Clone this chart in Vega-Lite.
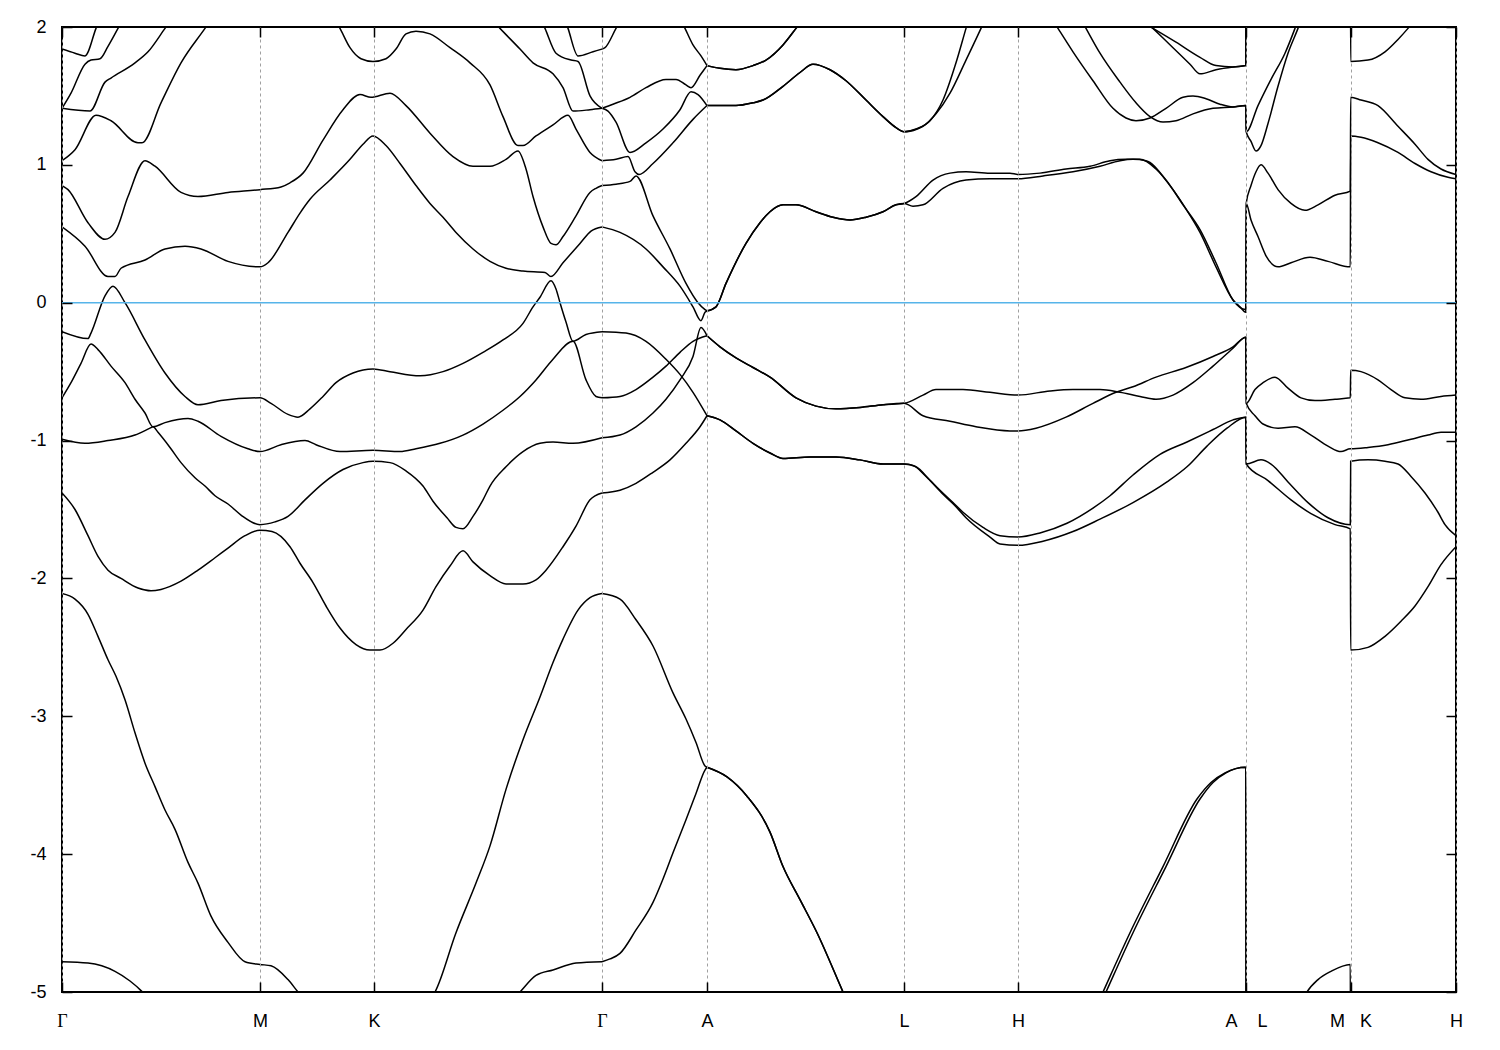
{
  "$schema": "https://vega.github.io/schema/vega-lite/v6.json",
  "width": 1394,
  "height": 965,
  "autosize": {"type": "none"},
  "padding": {"left": 62, "top": 27, "right": 44, "bottom": 58},
  "background": "white",
  "config": {"view": {"stroke": "black", "strokeWidth": 2}},
  "layer": [
    {
      "data": {"values": [
{"b":"a1","k":0,"e":-4.78},{"b":"a1","k":26,"e":-4.79},{"b":"a1","k":53,"e":-4.85},{"b":"a1","k":68,"e":-4.92},{"b":"a1","k":79,"e":-4.99},{"b":"a1","k":100,"e":-5.2},{"b":"a1","k":198,"e":-5.6},{"b":"a1","k":312,"e":-5.7},{"b":"a1","k":420,"e":-5.3},{"b":"a1","k":458,"e":-5.0},{"b":"a1","k":474,"e":-4.88},{"b":"a1","k":491,"e":-4.84},{"b":"a1","k":514,"e":-4.79},{"b":"a1","k":540,"e":-4.78},
{"b":"a2","k":0,"e":-2.11},{"b":"a2","k":13,"e":-2.15},{"b":"a2","k":26,"e":-2.26},{"b":"a2","k":36,"e":-2.42},{"b":"a2","k":46,"e":-2.59},{"b":"a2","k":54,"e":-2.71},{"b":"a2","k":63,"e":-2.88},{"b":"a2","k":73,"e":-3.12},{"b":"a2","k":83,"e":-3.34},{"b":"a2","k":93,"e":-3.51},{"b":"a2","k":103,"e":-3.68},{"b":"a2","k":113,"e":-3.82},{"b":"a2","k":126,"e":-4.06},{"b":"a2","k":136,"e":-4.21},{"b":"a2","k":149,"e":-4.45},{"b":"a2","k":166,"e":-4.64},{"b":"a2","k":183,"e":-4.78},{"b":"a2","k":198,"e":-4.80},{"b":"a2","k":209,"e":-4.81},{"b":"a2","k":226,"e":-4.91},{"b":"a2","k":236,"e":-5.0},{"b":"a2","k":312,"e":-5.4},{"b":"a2","k":373,"e":-5.0},{"b":"a2","k":394,"e":-4.57},{"b":"a2","k":414,"e":-4.21},{"b":"a2","k":428,"e":-3.94},{"b":"a2","k":444,"e":-3.53},{"b":"a2","k":461,"e":-3.17},{"b":"a2","k":478,"e":-2.86},{"b":"a2","k":491,"e":-2.61},{"b":"a2","k":501,"e":-2.44},{"b":"a2","k":516,"e":-2.23},{"b":"a2","k":528,"e":-2.14},{"b":"a2","k":540,"e":-2.11},
{"b":"a3","k":0,"e":-1.38},{"b":"a3","k":13,"e":-1.50},{"b":"a3","k":26,"e":-1.69},{"b":"a3","k":36,"e":-1.84},{"b":"a3","k":46,"e":-1.94},{"b":"a3","k":59,"e":-2.00},{"b":"a3","k":76,"e":-2.07},{"b":"a3","k":89,"e":-2.09},{"b":"a3","k":99,"e":-2.08},{"b":"a3","k":119,"e":-2.02},{"b":"a3","k":136,"e":-1.94},{"b":"a3","k":153,"e":-1.85},{"b":"a3","k":166,"e":-1.78},{"b":"a3","k":183,"e":-1.69},{"b":"a3","k":198,"e":-1.65},{"b":"a3","k":210,"e":-1.66},{"b":"a3","k":228,"e":-1.77},{"b":"a3","k":238,"e":-1.89},{"b":"a3","k":251,"e":-2.03},{"b":"a3","k":264,"e":-2.20},{"b":"a3","k":278,"e":-2.36},{"b":"a3","k":294,"e":-2.48},{"b":"a3","k":308,"e":-2.52},{"b":"a3","k":318,"e":-2.52},{"b":"a3","k":331,"e":-2.47},{"b":"a3","k":344,"e":-2.37},{"b":"a3","k":361,"e":-2.23},{"b":"a3","k":374,"e":-2.06},{"b":"a3","k":388,"e":-1.91},{"b":"a3","k":401,"e":-1.80},{"b":"a3","k":411,"e":-1.88},{"b":"a3","k":428,"e":-1.98},{"b":"a3","k":444,"e":-2.04},{"b":"a3","k":461,"e":-2.04},{"b":"a3","k":474,"e":-2.01},{"b":"a3","k":484,"e":-1.94},{"b":"a3","k":501,"e":-1.77},{"b":"a3","k":514,"e":-1.62},{"b":"a3","k":528,"e":-1.43},{"b":"a3","k":540,"e":-1.38},
{"b":"a4","k":0,"e":-0.99},{"b":"a4","k":23,"e":-1.02},{"b":"a4","k":46,"e":-1.00},{"b":"a4","k":73,"e":-0.96},{"b":"a4","k":88,"e":-0.91},{"b":"a4","k":91,"e":-0.90},{"b":"a4","k":96,"e":-0.94},{"b":"a4","k":108,"e":-1.05},{"b":"a4","k":119,"e":-1.16},{"b":"a4","k":133,"e":-1.27},{"b":"a4","k":143,"e":-1.33},{"b":"a4","k":153,"e":-1.40},{"b":"a4","k":166,"e":-1.46},{"b":"a4","k":179,"e":-1.54},{"b":"a4","k":198,"e":-1.61},{"b":"a4","k":213,"e":-1.59},{"b":"a4","k":226,"e":-1.55},{"b":"a4","k":243,"e":-1.43},{"b":"a4","k":261,"e":-1.31},{"b":"a4","k":281,"e":-1.21},{"b":"a4","k":301,"e":-1.16},{"b":"a4","k":311,"e":-1.15},{"b":"a4","k":328,"e":-1.16},{"b":"a4","k":344,"e":-1.22},{"b":"a4","k":361,"e":-1.33},{"b":"a4","k":371,"e":-1.44},{"b":"a4","k":385,"e":-1.56},{"b":"a4","k":394,"e":-1.63},{"b":"a4","k":401,"e":-1.64},{"b":"a4","k":411,"e":-1.55},{"b":"a4","k":421,"e":-1.43},{"b":"a4","k":428,"e":-1.33},{"b":"a4","k":444,"e":-1.19},{"b":"a4","k":461,"e":-1.08},{"b":"a4","k":478,"e":-1.02},{"b":"a4","k":491,"e":-1.01},{"b":"a4","k":511,"e":-1.02},{"b":"a4","k":540,"e":-0.98},
{"b":"a5","k":0,"e":-0.69},{"b":"a5","k":9,"e":-0.58},{"b":"a5","k":19,"e":-0.44},{"b":"a5","k":29,"e":-0.30},{"b":"a5","k":36,"e":-0.34},{"b":"a5","k":49,"e":-0.46},{"b":"a5","k":63,"e":-0.58},{"b":"a5","k":73,"e":-0.70},{"b":"a5","k":83,"e":-0.80},{"b":"a5","k":91,"e":-0.90},{"b":"a5","k":103,"e":-0.87},{"b":"a5","k":126,"e":-0.84},{"b":"a5","k":136,"e":-0.86},{"b":"a5","k":159,"e":-0.97},{"b":"a5","k":186,"e":-1.06},{"b":"a5","k":198,"e":-1.08},{"b":"a5","k":219,"e":-1.03},{"b":"a5","k":243,"e":-1.00},{"b":"a5","k":254,"e":-1.03},{"b":"a5","k":278,"e":-1.08},{"b":"a5","k":311,"e":-1.07},{"b":"a5","k":338,"e":-1.08},{"b":"a5","k":354,"e":-1.06},{"b":"a5","k":378,"e":-1.02},{"b":"a5","k":401,"e":-0.96},{"b":"a5","k":421,"e":-0.88},{"b":"a5","k":441,"e":-0.78},{"b":"a5","k":458,"e":-0.68},{"b":"a5","k":474,"e":-0.56},{"b":"a5","k":491,"e":-0.41},{"b":"a5","k":511,"e":-0.28},{"b":"a5","k":524,"e":-0.56},{"b":"a5","k":534,"e":-0.68},{"b":"a5","k":540,"e":-0.69},
{"b":"a6","k":0,"e":-0.21},{"b":"a6","k":26,"e":-0.26},{"b":"a6","k":29,"e":-0.22},{"b":"a6","k":43,"e":0.05},{"b":"a6","k":51,"e":0.12},{"b":"a6","k":63,"e":0.0},{"b":"a6","k":83,"e":-0.27},{"b":"a6","k":103,"e":-0.51},{"b":"a6","k":123,"e":-0.68},{"b":"a6","k":136,"e":-0.74},{"b":"a6","k":159,"e":-0.71},{"b":"a6","k":198,"e":-0.69},{"b":"a6","k":209,"e":-0.73},{"b":"a6","k":226,"e":-0.81},{"b":"a6","k":236,"e":-0.83},{"b":"a6","k":248,"e":-0.77},{"b":"a6","k":261,"e":-0.68},{"b":"a6","k":274,"e":-0.58},{"b":"a6","k":291,"e":-0.51},{"b":"a6","k":311,"e":-0.48},{"b":"a6","k":328,"e":-0.50},{"b":"a6","k":358,"e":-0.53},{"b":"a6","k":381,"e":-0.50},{"b":"a6","k":401,"e":-0.44},{"b":"a6","k":421,"e":-0.36},{"b":"a6","k":441,"e":-0.27},{"b":"a6","k":461,"e":-0.15},{"b":"a6","k":471,"e":-0.03},{"b":"a6","k":478,"e":0.04},{"b":"a6","k":489,"e":0.16},{"b":"a6","k":494,"e":0.10},{"b":"a6","k":498,"e":0.0},{"b":"a6","k":504,"e":-0.14},{"b":"a6","k":511,"e":-0.28},{"b":"a6","k":524,"e":-0.23},{"b":"a6","k":540,"e":-0.21},
{"b":"a7","k":0,"e":0.55},{"b":"a7","k":23,"e":0.41},{"b":"a7","k":46,"e":0.19},{"b":"a7","k":53,"e":0.19},{"b":"a7","k":59,"e":0.25},{"b":"a7","k":83,"e":0.31},{"b":"a7","k":103,"e":0.39},{"b":"a7","k":123,"e":0.41},{"b":"a7","k":139,"e":0.39},{"b":"a7","k":166,"e":0.30},{"b":"a7","k":198,"e":0.26},{"b":"a7","k":206,"e":0.29},{"b":"a7","k":226,"e":0.51},{"b":"a7","k":238,"e":0.65},{"b":"a7","k":248,"e":0.75},{"b":"a7","k":268,"e":0.89},{"b":"a7","k":288,"e":1.04},{"b":"a7","k":301,"e":1.15},{"b":"a7","k":311,"e":1.21},{"b":"a7","k":324,"e":1.14},{"b":"a7","k":338,"e":1.01},{"b":"a7","k":354,"e":0.85},{"b":"a7","k":368,"e":0.72},{"b":"a7","k":381,"e":0.62},{"b":"a7","k":394,"e":0.51},{"b":"a7","k":411,"e":0.39},{"b":"a7","k":428,"e":0.30},{"b":"a7","k":444,"e":0.25},{"b":"a7","k":461,"e":0.23},{"b":"a7","k":483,"e":0.22},{"b":"a7","k":489,"e":0.19},{"b":"a7","k":501,"e":0.29},{"b":"a7","k":518,"e":0.43},{"b":"a7","k":529,"e":0.52},{"b":"a7","k":540,"e":0.55},
{"b":"a8","k":0,"e":0.85},{"b":"a8","k":6,"e":0.82},{"b":"a8","k":26,"e":0.58},{"b":"a8","k":43,"e":0.46},{"b":"a8","k":53,"e":0.51},{"b":"a8","k":66,"e":0.77},{"b":"a8","k":83,"e":1.03},{"b":"a8","k":93,"e":0.99},{"b":"a8","k":119,"e":0.80},{"b":"a8","k":136,"e":0.77},{"b":"a8","k":166,"e":0.80},{"b":"a8","k":198,"e":0.82},{"b":"a8","k":219,"e":0.84},{"b":"a8","k":228,"e":0.87},{"b":"a8","k":241,"e":0.94},{"b":"a8","k":261,"e":1.18},{"b":"a8","k":281,"e":1.40},{"b":"a8","k":298,"e":1.51},{"b":"a8","k":309,"e":1.49},{"b":"a8","k":328,"e":1.52},{"b":"a8","k":344,"e":1.43},{"b":"a8","k":368,"e":1.23},{"b":"a8","k":391,"e":1.06},{"b":"a8","k":411,"e":0.99},{"b":"a8","k":428,"e":0.99},{"b":"a8","k":444,"e":1.04},{"b":"a8","k":456,"e":1.10},{"b":"a8","k":464,"e":0.97},{"b":"a8","k":471,"e":0.77},{"b":"a8","k":481,"e":0.55},{"b":"a8","k":489,"e":0.43},{"b":"a8","k":494,"e":0.42},{"b":"a8","k":501,"e":0.48},{"b":"a8","k":514,"e":0.63},{"b":"a8","k":528,"e":0.80},{"b":"a8","k":534,"e":0.83},{"b":"a8","k":540,"e":0.85},
{"b":"a9","k":0,"e":1.03},{"b":"a9","k":13,"e":1.11},{"b":"a9","k":34,"e":1.36},{"b":"a9","k":49,"e":1.32},{"b":"a9","k":76,"e":1.16},{"b":"a9","k":80,"e":1.16},{"b":"a9","k":99,"e":1.45},{"b":"a9","k":119,"e":1.74},{"b":"a9","k":143,"e":1.99},{"b":"a9","k":170,"e":2.27},{"b":"a9","k":250,"e":2.3},{"b":"a9","k":278,"e":1.99},{"b":"a9","k":288,"e":1.85},{"b":"a9","k":299,"e":1.77},{"b":"a9","k":311,"e":1.75},{"b":"a9","k":324,"e":1.77},{"b":"a9","k":334,"e":1.84},{"b":"a9","k":344,"e":1.95},{"b":"a9","k":354,"e":1.97},{"b":"a9","k":368,"e":1.95},{"b":"a9","k":388,"e":1.85},{"b":"a9","k":408,"e":1.74},{"b":"a9","k":428,"e":1.58},{"b":"a9","k":441,"e":1.35},{"b":"a9","k":456,"e":1.14},{"b":"a9","k":461,"e":1.14},{"b":"a9","k":474,"e":1.21},{"b":"a9","k":491,"e":1.29},{"b":"a9","k":506,"e":1.36},{"b":"a9","k":514,"e":1.26},{"b":"a9","k":528,"e":1.09},{"b":"a9","k":540,"e":1.03},
{"b":"a10","k":0,"e":1.41},{"b":"a10","k":28,"e":1.39},{"b":"a10","k":43,"e":1.60},{"b":"a10","k":49,"e":1.63},{"b":"a10","k":73,"e":1.74},{"b":"a10","k":86,"e":1.82},{"b":"a10","k":103,"e":1.99},{"b":"a10","k":130,"e":2.26},{"b":"a10","k":300,"e":2.5},{"b":"a10","k":420,"e":2.13},{"b":"a10","k":438,"e":1.99},{"b":"a10","k":458,"e":1.84},{"b":"a10","k":471,"e":1.74},{"b":"a10","k":491,"e":1.66},{"b":"a10","k":501,"e":1.56},{"b":"a10","k":511,"e":1.39},{"b":"a10","k":528,"e":1.40},{"b":"a10","k":540,"e":1.41},
{"b":"a11","k":0,"e":1.41},{"b":"a11","k":9,"e":1.52},{"b":"a11","k":23,"e":1.73},{"b":"a11","k":29,"e":1.76},{"b":"a11","k":38,"e":1.77},{"b":"a11","k":46,"e":1.86},{"b":"a11","k":56,"e":1.99},{"b":"a11","k":80,"e":2.3},{"b":"a11","k":300,"e":2.6},{"b":"a11","k":470,"e":2.2},{"b":"a11","k":483,"e":1.99},{"b":"a11","k":494,"e":1.81},{"b":"a11","k":509,"e":1.76},{"b":"a11","k":516,"e":1.75},{"b":"a11","k":528,"e":1.50},{"b":"a11","k":540,"e":1.41},
{"b":"a12","k":0,"e":1.84},{"b":"a12","k":13,"e":1.81},{"b":"a12","k":23,"e":1.79},{"b":"a12","k":34,"e":1.99},{"b":"a12","k":60,"e":2.47},{"b":"a12","k":300,"e":2.7},{"b":"a12","k":495,"e":2.21},{"b":"a12","k":506,"e":1.99},{"b":"a12","k":516,"e":1.79},{"b":"a12","k":531,"e":1.82},{"b":"a12","k":540,"e":1.84},
{"b":"g1","k":540,"e":-4.78},{"b":"g1","k":548,"e":-4.76},{"b":"g1","k":558,"e":-4.72},{"b":"g1","k":574,"e":-4.55},{"b":"g1","k":591,"e":-4.35},{"b":"g1","k":601,"e":-4.18},{"b":"g1","k":611,"e":-3.99},{"b":"g1","k":624,"e":-3.75},{"b":"g1","k":634,"e":-3.56},{"b":"g1","k":643,"e":-3.39},{"b":"g1","k":645,"e":-3.37},
{"b":"g2","k":540,"e":-2.11},{"b":"g2","k":558,"e":-2.15},{"b":"g2","k":574,"e":-2.30},{"b":"g2","k":591,"e":-2.49},{"b":"g2","k":611,"e":-2.83},{"b":"g2","k":624,"e":-3.02},{"b":"g2","k":634,"e":-3.19},{"b":"g2","k":643,"e":-3.36},{"b":"g2","k":645,"e":-3.37},
{"b":"g3","k":540,"e":-1.38},{"b":"g3","k":558,"e":-1.36},{"b":"g3","k":574,"e":-1.31},{"b":"g3","k":591,"e":-1.23},{"b":"g3","k":608,"e":-1.14},{"b":"g3","k":624,"e":-1.02},{"b":"g3","k":638,"e":-0.90},{"b":"g3","k":645,"e":-0.82},
{"b":"g4","k":540,"e":-0.98},{"b":"g4","k":558,"e":-0.96},{"b":"g4","k":574,"e":-0.90},{"b":"g4","k":591,"e":-0.80},{"b":"g4","k":604,"e":-0.70},{"b":"g4","k":618,"e":-0.56},{"b":"g4","k":631,"e":-0.39},{"b":"g4","k":639,"e":-0.18},{"b":"g4","k":645,"e":-0.24},
{"b":"g5","k":540,"e":-0.69},{"b":"g5","k":558,"e":-0.68},{"b":"g5","k":574,"e":-0.63},{"b":"g5","k":591,"e":-0.54},{"b":"g5","k":604,"e":-0.46},{"b":"g5","k":618,"e":-0.36},{"b":"g5","k":631,"e":-0.28},{"b":"g5","k":645,"e":-0.24},
{"b":"g6","k":540,"e":-0.21},{"b":"g6","k":564,"e":-0.22},{"b":"g6","k":584,"e":-0.28},{"b":"g6","k":604,"e":-0.41},{"b":"g6","k":618,"e":-0.52},{"b":"g6","k":631,"e":-0.65},{"b":"g6","k":645,"e":-0.82},
{"b":"g7","k":540,"e":0.55},{"b":"g7","k":558,"e":0.51},{"b":"g7","k":584,"e":0.39},{"b":"g7","k":601,"e":0.26},{"b":"g7","k":618,"e":0.12},{"b":"g7","k":631,"e":-0.03},{"b":"g7","k":639,"e":-0.13},{"b":"g7","k":643,"e":-0.07},{"b":"g7","k":645,"e":-0.06},
{"b":"g8","k":540,"e":0.85},{"b":"g8","k":554,"e":0.86},{"b":"g8","k":568,"e":0.88},{"b":"g8","k":574,"e":0.92},{"b":"g8","k":591,"e":0.63},{"b":"g8","k":608,"e":0.39},{"b":"g8","k":624,"e":0.14},{"b":"g8","k":636,"e":0.0},{"b":"g8","k":643,"e":-0.05},{"b":"g8","k":645,"e":-0.06},
{"b":"g9","k":540,"e":1.03},{"b":"g9","k":554,"e":1.04},{"b":"g9","k":566,"e":1.06},{"b":"g9","k":573,"e":0.95},{"b":"g9","k":577,"e":0.93},{"b":"g9","k":591,"e":1.01},{"b":"g9","k":611,"e":1.16},{"b":"g9","k":631,"e":1.33},{"b":"g9","k":645,"e":1.43},
{"b":"g10","k":540,"e":1.41},{"b":"g10","k":546,"e":1.39},{"b":"g10","k":554,"e":1.31},{"b":"g10","k":568,"e":1.09},{"b":"g10","k":584,"e":1.16},{"b":"g10","k":601,"e":1.26},{"b":"g10","k":618,"e":1.40},{"b":"g10","k":629,"e":1.53},{"b":"g10","k":636,"e":1.51},{"b":"g10","k":645,"e":1.43},
{"b":"g11","k":540,"e":1.41},{"b":"g11","k":551,"e":1.44},{"b":"g11","k":568,"e":1.49},{"b":"g11","k":584,"e":1.56},{"b":"g11","k":604,"e":1.62},{"b":"g11","k":614,"e":1.62},{"b":"g11","k":624,"e":1.58},{"b":"g11","k":629,"e":1.56},{"b":"g11","k":638,"e":1.65},{"b":"g11","k":645,"e":1.72},
{"b":"g12","k":540,"e":1.84},{"b":"g12","k":543,"e":1.85},{"b":"g12","k":554,"e":1.99},{"b":"g12","k":570,"e":2.2},{"b":"g12","k":608,"e":2.2},{"b":"g12","k":623,"e":1.99},{"b":"g12","k":631,"e":1.87},{"b":"g12","k":639,"e":1.79},{"b":"g12","k":645,"e":1.72},
{"b":"c1","k":645,"e":-3.37},{"b":"c1","k":665,"e":-3.44},{"b":"c1","k":685,"e":-3.58},{"b":"c1","k":708,"e":-3.84},{"b":"c1","k":721,"e":-4.09},{"b":"c1","k":738,"e":-4.33},{"b":"c1","k":755,"e":-4.57},{"b":"c1","k":781,"e":-5.0},{"b":"c1","k":842,"e":-6.0},{"b":"c1","k":956,"e":-6.2},{"b":"c1","k":1010,"e":-5.55},{"b":"c1","k":1044,"e":-5.0},{"b":"c1","k":1071,"e":-4.57},{"b":"c1","k":1104,"e":-4.09},{"b":"c1","k":1138,"e":-3.60},{"b":"c1","k":1151,"e":-3.48},{"b":"c1","k":1164,"e":-3.41},{"b":"c1","k":1183.8,"e":-3.37},{"b":"c1","k":1184.2,"e":-6.0},{"b":"c1","k":1394,"e":-6.0},
{"b":"c2","k":645,"e":-3.37},{"b":"c2","k":665,"e":-3.44},{"b":"c2","k":685,"e":-3.58},{"b":"c2","k":708,"e":-3.84},{"b":"c2","k":721,"e":-4.09},{"b":"c2","k":738,"e":-4.33},{"b":"c2","k":755,"e":-4.57},{"b":"c2","k":781,"e":-5.0},{"b":"c2","k":842,"e":-6.0},{"b":"c2","k":956,"e":-6.2},{"b":"c2","k":1007,"e":-5.55},{"b":"c2","k":1041,"e":-5.0},{"b":"c2","k":1068,"e":-4.57},{"b":"c2","k":1101,"e":-4.09},{"b":"c2","k":1135,"e":-3.60},{"b":"c2","k":1149,"e":-3.48},{"b":"c2","k":1163,"e":-3.41},{"b":"c2","k":1183.8,"e":-3.37},{"b":"c2","k":1184.2,"e":-6.0},{"b":"c2","k":1220,"e":-5.5},{"b":"c2","k":1245,"e":-5.0},{"b":"c2","k":1256,"e":-4.91},{"b":"c2","k":1269,"e":-4.85},{"b":"c2","k":1288.3,"e":-4.80},{"b":"c2","k":1288.7,"e":-6.0},{"b":"c2","k":1394,"e":-6.0},
{"b":"c3","k":645,"e":-0.82},{"b":"c3","k":658,"e":-0.85},{"b":"c3","k":674,"e":-0.93},{"b":"c3","k":691,"e":-1.02},{"b":"c3","k":708,"e":-1.09},{"b":"c3","k":721,"e":-1.13},{"b":"c3","k":748,"e":-1.12},{"b":"c3","k":774,"e":-1.12},{"b":"c3","k":798,"e":-1.14},{"b":"c3","k":821,"e":-1.17},{"b":"c3","k":842,"e":-1.17},{"b":"c3","k":854,"e":-1.19},{"b":"c3","k":868,"e":-1.29},{"b":"c3","k":881,"e":-1.39},{"b":"c3","k":894,"e":-1.48},{"b":"c3","k":904,"e":-1.56},{"b":"c3","k":928,"e":-1.70},{"b":"c3","k":938,"e":-1.75},{"b":"c3","k":956,"e":-1.76},{"b":"c3","k":981,"e":-1.73},{"b":"c3","k":1011,"e":-1.66},{"b":"c3","k":1038,"e":-1.57},{"b":"c3","k":1071,"e":-1.45},{"b":"c3","k":1105,"e":-1.30},{"b":"c3","k":1125,"e":-1.19},{"b":"c3","k":1145,"e":-1.04},{"b":"c3","k":1165,"e":-0.91},{"b":"c3","k":1183.8,"e":-0.83},{"b":"c3","k":1184.2,"e":-1.17},{"b":"c3","k":1206,"e":-1.29},{"b":"c3","k":1229,"e":-1.43},{"b":"c3","k":1249,"e":-1.53},{"b":"c3","k":1273,"e":-1.61},{"b":"c3","k":1288.3,"e":-1.64},{"b":"c3","k":1288.7,"e":-2.52},{"b":"c3","k":1306,"e":-2.50},{"b":"c3","k":1323,"e":-2.42},{"b":"c3","k":1339,"e":-2.31},{"b":"c3","k":1353,"e":-2.20},{"b":"c3","k":1366,"e":-2.06},{"b":"c3","k":1379,"e":-1.90},{"b":"c3","k":1394,"e":-1.77},
{"b":"c4","k":645,"e":-0.82},{"b":"c4","k":658,"e":-0.85},{"b":"c4","k":674,"e":-0.93},{"b":"c4","k":691,"e":-1.02},{"b":"c4","k":708,"e":-1.09},{"b":"c4","k":721,"e":-1.13},{"b":"c4","k":748,"e":-1.12},{"b":"c4","k":774,"e":-1.12},{"b":"c4","k":798,"e":-1.14},{"b":"c4","k":821,"e":-1.17},{"b":"c4","k":842,"e":-1.17},{"b":"c4","k":851,"e":-1.18},{"b":"c4","k":864,"e":-1.26},{"b":"c4","k":878,"e":-1.36},{"b":"c4","k":891,"e":-1.45},{"b":"c4","k":901,"e":-1.52},{"b":"c4","k":921,"e":-1.63},{"b":"c4","k":938,"e":-1.69},{"b":"c4","k":956,"e":-1.70},{"b":"c4","k":978,"e":-1.67},{"b":"c4","k":1005,"e":-1.60},{"b":"c4","k":1031,"e":-1.49},{"b":"c4","k":1048,"e":-1.40},{"b":"c4","k":1071,"e":-1.25},{"b":"c4","k":1098,"e":-1.10},{"b":"c4","k":1125,"e":-1.01},{"b":"c4","k":1151,"e":-0.92},{"b":"c4","k":1171,"e":-0.85},{"b":"c4","k":1183.8,"e":-0.83},{"b":"c4","k":1184.2,"e":-1.17},{"b":"c4","k":1199,"e":-1.14},{"b":"c4","k":1209,"e":-1.17},{"b":"c4","k":1226,"e":-1.30},{"b":"c4","k":1246,"e":-1.45},{"b":"c4","k":1266,"e":-1.56},{"b":"c4","k":1288.3,"e":-1.61},{"b":"c4","k":1288.7,"e":-1.15},{"b":"c4","k":1306,"e":-1.14},{"b":"c4","k":1323,"e":-1.15},{"b":"c4","k":1336,"e":-1.17},{"b":"c4","k":1349,"e":-1.26},{"b":"c4","k":1363,"e":-1.38},{"b":"c4","k":1376,"e":-1.52},{"b":"c4","k":1383,"e":-1.61},{"b":"c4","k":1394,"e":-1.69},
{"b":"c5","k":645,"e":-0.24},{"b":"c5","k":658,"e":-0.32},{"b":"c5","k":674,"e":-0.40},{"b":"c5","k":691,"e":-0.47},{"b":"c5","k":708,"e":-0.54},{"b":"c5","k":734,"e":-0.69},{"b":"c5","k":754,"e":-0.75},{"b":"c5","k":774,"e":-0.77},{"b":"c5","k":798,"e":-0.76},{"b":"c5","k":821,"e":-0.74},{"b":"c5","k":842,"e":-0.73},{"b":"c5","k":861,"e":-0.82},{"b":"c5","k":888,"e":-0.86},{"b":"c5","k":914,"e":-0.90},{"b":"c5","k":948,"e":-0.93},{"b":"c5","k":956,"e":-0.93},{"b":"c5","k":974,"e":-0.91},{"b":"c5","k":1004,"e":-0.83},{"b":"c5","k":1031,"e":-0.73},{"b":"c5","k":1054,"e":-0.65},{"b":"c5","k":1071,"e":-0.61},{"b":"c5","k":1094,"e":-0.54},{"b":"c5","k":1124,"e":-0.47},{"b":"c5","k":1151,"e":-0.39},{"b":"c5","k":1171,"e":-0.32},{"b":"c5","k":1183.8,"e":-0.25},{"b":"c5","k":1184.2,"e":-0.73},{"b":"c5","k":1193,"e":-0.82},{"b":"c5","k":1201,"e":-0.88},{"b":"c5","k":1216,"e":-0.91},{"b":"c5","k":1233,"e":-0.90},{"b":"c5","k":1249,"e":-0.96},{"b":"c5","k":1266,"e":-1.04},{"b":"c5","k":1279,"e":-1.08},{"b":"c5","k":1288.3,"e":-1.06},{"b":"c5","k":1288.7,"e":-1.06},{"b":"c5","k":1306,"e":-1.05},{"b":"c5","k":1326,"e":-1.03},{"b":"c5","k":1349,"e":-0.99},{"b":"c5","k":1366,"e":-0.96},{"b":"c5","k":1379,"e":-0.94},{"b":"c5","k":1394,"e":-0.94},
{"b":"c6","k":645,"e":-0.24},{"b":"c6","k":658,"e":-0.32},{"b":"c6","k":674,"e":-0.40},{"b":"c6","k":691,"e":-0.47},{"b":"c6","k":708,"e":-0.54},{"b":"c6","k":734,"e":-0.69},{"b":"c6","k":754,"e":-0.75},{"b":"c6","k":774,"e":-0.77},{"b":"c6","k":798,"e":-0.76},{"b":"c6","k":821,"e":-0.74},{"b":"c6","k":842,"e":-0.73},{"b":"c6","k":861,"e":-0.67},{"b":"c6","k":874,"e":-0.63},{"b":"c6","k":901,"e":-0.63},{"b":"c6","k":928,"e":-0.65},{"b":"c6","k":956,"e":-0.67},{"b":"c6","k":988,"e":-0.64},{"b":"c6","k":1011,"e":-0.63},{"b":"c6","k":1038,"e":-0.63},{"b":"c6","k":1058,"e":-0.65},{"b":"c6","k":1078,"e":-0.68},{"b":"c6","k":1094,"e":-0.70},{"b":"c6","k":1111,"e":-0.67},{"b":"c6","k":1131,"e":-0.58},{"b":"c6","k":1151,"e":-0.46},{"b":"c6","k":1171,"e":-0.33},{"b":"c6","k":1183.8,"e":-0.25},{"b":"c6","k":1184.2,"e":-0.73},{"b":"c6","k":1193,"e":-0.63},{"b":"c6","k":1201,"e":-0.58},{"b":"c6","k":1213,"e":-0.54},{"b":"c6","k":1226,"e":-0.62},{"b":"c6","k":1239,"e":-0.69},{"b":"c6","k":1253,"e":-0.71},{"b":"c6","k":1273,"e":-0.70},{"b":"c6","k":1288.3,"e":-0.69},{"b":"c6","k":1288.7,"e":-0.49},{"b":"c6","k":1299,"e":-0.50},{"b":"c6","k":1316,"e":-0.56},{"b":"c6","k":1329,"e":-0.63},{"b":"c6","k":1343,"e":-0.69},{"b":"c6","k":1359,"e":-0.70},{"b":"c6","k":1379,"e":-0.68},{"b":"c6","k":1394,"e":-0.67},
{"b":"c7","k":645,"e":-0.06},{"b":"c7","k":654,"e":-0.03},{"b":"c7","k":664,"e":0.14},{"b":"c7","k":684,"e":0.43},{"b":"c7","k":698,"e":0.58},{"b":"c7","k":708,"e":0.66},{"b":"c7","k":721,"e":0.71},{"b":"c7","k":734,"e":0.71},{"b":"c7","k":754,"e":0.66},{"b":"c7","k":771,"e":0.62},{"b":"c7","k":788,"e":0.60},{"b":"c7","k":804,"e":0.62},{"b":"c7","k":821,"e":0.66},{"b":"c7","k":834,"e":0.71},{"b":"c7","k":842,"e":0.72},{"b":"c7","k":851,"e":0.70},{"b":"c7","k":861,"e":0.71},{"b":"c7","k":881,"e":0.83},{"b":"c7","k":904,"e":0.89},{"b":"c7","k":928,"e":0.90},{"b":"c7","k":948,"e":0.90},{"b":"c7","k":956,"e":0.90},{"b":"c7","k":981,"e":0.92},{"b":"c7","k":1011,"e":0.95},{"b":"c7","k":1038,"e":0.99},{"b":"c7","k":1058,"e":1.03},{"b":"c7","k":1071,"e":1.04},{"b":"c7","k":1084,"e":1.03},{"b":"c7","k":1104,"e":0.89},{"b":"c7","k":1121,"e":0.71},{"b":"c7","k":1138,"e":0.53},{"b":"c7","k":1154,"e":0.29},{"b":"c7","k":1171,"e":0.02},{"b":"c7","k":1183.8,"e":-0.05},{"b":"c7","k":1184.2,"e":0.72},{"b":"c7","k":1189,"e":0.60},{"b":"c7","k":1196,"e":0.48},{"b":"c7","k":1204,"e":0.34},{"b":"c7","k":1216,"e":0.26},{"b":"c7","k":1229,"e":0.29},{"b":"c7","k":1248,"e":0.33},{"b":"c7","k":1266,"e":0.30},{"b":"c7","k":1288.3,"e":0.26},{"b":"c7","k":1288.7,"e":1.21},{"b":"c7","k":1299,"e":1.20},{"b":"c7","k":1316,"e":1.16},{"b":"c7","k":1336,"e":1.09},{"b":"c7","k":1353,"e":1.01},{"b":"c7","k":1369,"e":0.95},{"b":"c7","k":1386,"e":0.91},{"b":"c7","k":1394,"e":0.90},
{"b":"c8","k":645,"e":-0.06},{"b":"c8","k":654,"e":-0.03},{"b":"c8","k":664,"e":0.14},{"b":"c8","k":684,"e":0.43},{"b":"c8","k":698,"e":0.58},{"b":"c8","k":708,"e":0.66},{"b":"c8","k":721,"e":0.71},{"b":"c8","k":734,"e":0.71},{"b":"c8","k":754,"e":0.66},{"b":"c8","k":771,"e":0.62},{"b":"c8","k":788,"e":0.60},{"b":"c8","k":804,"e":0.62},{"b":"c8","k":821,"e":0.66},{"b":"c8","k":834,"e":0.71},{"b":"c8","k":842,"e":0.72},{"b":"c8","k":854,"e":0.77},{"b":"c8","k":871,"e":0.89},{"b":"c8","k":888,"e":0.94},{"b":"c8","k":904,"e":0.95},{"b":"c8","k":928,"e":0.94},{"b":"c8","k":948,"e":0.94},{"b":"c8","k":956,"e":0.93},{"b":"c8","k":978,"e":0.94},{"b":"c8","k":1004,"e":0.97},{"b":"c8","k":1028,"e":0.99},{"b":"c8","k":1048,"e":1.03},{"b":"c8","k":1064,"e":1.04},{"b":"c8","k":1078,"e":1.04},{"b":"c8","k":1094,"e":0.97},{"b":"c8","k":1111,"e":0.82},{"b":"c8","k":1124,"e":0.68},{"b":"c8","k":1138,"e":0.51},{"b":"c8","k":1154,"e":0.26},{"b":"c8","k":1171,"e":0.02},{"b":"c8","k":1178,"e":-0.03},{"b":"c8","k":1183.8,"e":-0.07},{"b":"c8","k":1184.2,"e":0.72},{"b":"c8","k":1189,"e":0.85},{"b":"c8","k":1194,"e":0.95},{"b":"c8","k":1199,"e":1.00},{"b":"c8","k":1206,"e":0.94},{"b":"c8","k":1216,"e":0.82},{"b":"c8","k":1229,"e":0.72},{"b":"c8","k":1243,"e":0.67},{"b":"c8","k":1256,"e":0.71},{"b":"c8","k":1273,"e":0.78},{"b":"c8","k":1288.3,"e":0.81},{"b":"c8","k":1288.7,"e":1.49},{"b":"c8","k":1299,"e":1.47},{"b":"c8","k":1316,"e":1.43},{"b":"c8","k":1336,"e":1.28},{"b":"c8","k":1353,"e":1.15},{"b":"c8","k":1366,"e":1.04},{"b":"c8","k":1379,"e":0.97},{"b":"c8","k":1394,"e":0.93},
{"b":"c9","k":645,"e":1.43},{"b":"c9","k":658,"e":1.43},{"b":"c9","k":674,"e":1.43},{"b":"c9","k":691,"e":1.45},{"b":"c9","k":701,"e":1.47},{"b":"c9","k":721,"e":1.57},{"b":"c9","k":738,"e":1.67},{"b":"c9","k":751,"e":1.73},{"b":"c9","k":768,"e":1.69},{"b":"c9","k":784,"e":1.61},{"b":"c9","k":804,"e":1.47},{"b":"c9","k":821,"e":1.35},{"b":"c9","k":834,"e":1.27},{"b":"c9","k":842,"e":1.24},{"b":"c9","k":854,"e":1.26},{"b":"c9","k":868,"e":1.32},{"b":"c9","k":881,"e":1.47},{"b":"c9","k":894,"e":1.74},{"b":"c9","k":904,"e":1.99},{"b":"c9","k":925,"e":2.5},{"b":"c9","k":960,"e":2.6},{"b":"c9","k":975,"e":2.22},{"b":"c9","k":996,"e":1.99},{"b":"c9","k":1011,"e":1.82},{"b":"c9","k":1031,"e":1.61},{"b":"c9","k":1051,"e":1.41},{"b":"c9","k":1064,"e":1.34},{"b":"c9","k":1074,"e":1.32},{"b":"c9","k":1088,"e":1.34},{"b":"c9","k":1104,"e":1.41},{"b":"c9","k":1121,"e":1.49},{"b":"c9","k":1131,"e":1.50},{"b":"c9","k":1144,"e":1.48},{"b":"c9","k":1158,"e":1.44},{"b":"c9","k":1171,"e":1.42},{"b":"c9","k":1183.8,"e":1.43},{"b":"c9","k":1184.2,"e":1.24},{"b":"c9","k":1189,"e":1.17},{"b":"c9","k":1194,"e":1.10},{"b":"c9","k":1199,"e":1.14},{"b":"c9","k":1206,"e":1.30},{"b":"c9","k":1216,"e":1.57},{"b":"c9","k":1226,"e":1.81},{"b":"c9","k":1236,"e":1.99},{"b":"c9","k":1260,"e":2.5},{"b":"c9","k":1288.3,"e":2.7},{"b":"c9","k":1288.7,"e":1.75},{"b":"c9","k":1306,"e":1.76},{"b":"c9","k":1323,"e":1.82},{"b":"c9","k":1336,"e":1.91},{"b":"c9","k":1346,"e":1.99},{"b":"c9","k":1360,"e":2.12},{"b":"c9","k":1394,"e":2.4},
{"b":"c10","k":645,"e":1.43},{"b":"c10","k":658,"e":1.43},{"b":"c10","k":674,"e":1.43},{"b":"c10","k":691,"e":1.45},{"b":"c10","k":701,"e":1.47},{"b":"c10","k":721,"e":1.57},{"b":"c10","k":738,"e":1.67},{"b":"c10","k":751,"e":1.73},{"b":"c10","k":768,"e":1.69},{"b":"c10","k":784,"e":1.61},{"b":"c10","k":804,"e":1.47},{"b":"c10","k":821,"e":1.35},{"b":"c10","k":834,"e":1.27},{"b":"c10","k":842,"e":1.24},{"b":"c10","k":861,"e":1.28},{"b":"c10","k":874,"e":1.37},{"b":"c10","k":888,"e":1.52},{"b":"c10","k":904,"e":1.76},{"b":"c10","k":919,"e":1.99},{"b":"c10","k":935,"e":2.25},{"b":"c10","k":990,"e":2.5},{"b":"c10","k":1005,"e":2.24},{"b":"c10","k":1024,"e":1.99},{"b":"c10","k":1038,"e":1.81},{"b":"c10","k":1058,"e":1.60},{"b":"c10","k":1074,"e":1.45},{"b":"c10","k":1088,"e":1.35},{"b":"c10","k":1101,"e":1.31},{"b":"c10","k":1114,"e":1.32},{"b":"c10","k":1131,"e":1.37},{"b":"c10","k":1151,"e":1.41},{"b":"c10","k":1171,"e":1.42},{"b":"c10","k":1183.8,"e":1.43},{"b":"c10","k":1184.2,"e":1.24},{"b":"c10","k":1196,"e":1.43},{"b":"c10","k":1209,"e":1.62},{"b":"c10","k":1223,"e":1.81},{"b":"c10","k":1233,"e":1.99},{"b":"c10","k":1260,"e":2.6},{"b":"c10","k":1394,"e":2.8},
{"b":"c11","k":645,"e":1.72},{"b":"c11","k":658,"e":1.70},{"b":"c11","k":674,"e":1.69},{"b":"c11","k":691,"e":1.72},{"b":"c11","k":704,"e":1.76},{"b":"c11","k":721,"e":1.87},{"b":"c11","k":734,"e":1.99},{"b":"c11","k":760,"e":2.25},{"b":"c11","k":900,"e":2.8},{"b":"c11","k":1040,"e":2.4},{"b":"c11","k":1060,"e":2.21},{"b":"c11","k":1091,"e":1.99},{"b":"c11","k":1111,"e":1.85},{"b":"c11","k":1128,"e":1.73},{"b":"c11","k":1138,"e":1.66},{"b":"c11","k":1154,"e":1.69},{"b":"c11","k":1171,"e":1.71},{"b":"c11","k":1183.8,"e":1.72},{"b":"c11","k":1184.2,"e":2.6},{"b":"c11","k":1394,"e":2.8},
{"b":"c12","k":645,"e":1.72},{"b":"c12","k":658,"e":1.70},{"b":"c12","k":674,"e":1.69},{"b":"c12","k":691,"e":1.72},{"b":"c12","k":704,"e":1.76},{"b":"c12","k":721,"e":1.87},{"b":"c12","k":734,"e":1.99},{"b":"c12","k":760,"e":2.25},{"b":"c12","k":900,"e":2.8},{"b":"c12","k":1040,"e":2.4},{"b":"c12","k":1060,"e":2.12},{"b":"c12","k":1091,"e":1.99},{"b":"c12","k":1114,"e":1.89},{"b":"c12","k":1138,"e":1.78},{"b":"c12","k":1154,"e":1.72},{"b":"c12","k":1171,"e":1.71},{"b":"c12","k":1183.8,"e":1.72},{"b":"c12","k":1184.2,"e":2.6},{"b":"c12","k":1394,"e":2.8}
      ]},
      "mark": {"type": "line", "clip": true, "color": "black", "strokeWidth": 1.5, "interpolate": "monotone"},
      "encoding": {
        "x": {"field": "k", "type": "quantitative",
          "scale": {"domain": [0, 1394], "nice": false, "zero": false},
          "axis": {"orient": "bottom", "values": [0, 198, 312, 540, 645, 842, 956, 1184, 1288.5, 1394],
            "labelExpr": "datum.value == 0 || datum.value == 540 ? 'Γ' : datum.value == 198 ? 'M' : datum.value == 312 ? 'K' : datum.value == 645 ? 'A' : datum.value == 842 ? 'L' : (datum.value == 956 || datum.value == 1394) ? 'H' : datum.value == 1184 ? 'A\u00a0\u00a0\u00a0\u00a0L' : 'M\u00a0\u00a0\u00a0K'",
            "title": null, "domain": false, "ticks": true, "tickSize": -10, "tickColor": "black", "tickWidth": 1.5,
            "grid": true, "gridColor": "#a0a0a0", "gridDash": [3, 3], "gridWidth": 1,
            "labelFont": {"condition": {"test": "datum.value == 0 || datum.value == 540", "value": "Liberation Serif"}, "value": "Liberation Sans"},
            "labelFontSize": 18, "labelColor": "black", "labelPadding": 30,
            "labelFlush": false, "labelOverlap": false, "labelBound": false, "zindex": 1}},
        "y": {"field": "e", "type": "quantitative",
          "scale": {"domain": [-5, 2], "nice": false, "zero": false},
          "axis": {"orient": "left", "values": [-5, -4, -3, -2, -1, 0, 1, 2], "labelExpr": "'' + datum.value",
            "title": null, "domain": false, "ticks": true, "tickSize": -10, "tickColor": "black", "tickWidth": 1.5,
            "grid": false, "labelFont": "Liberation Sans", "labelFontSize": 18, "labelColor": "black", "labelPadding": 26,
            "labelFlush": false, "labelOverlap": false, "labelBound": false, "zindex": 1}},
        "detail": {"field": "b", "type": "nominal"}
      }
    },
    {
      "data": {"values": [{"k": 0, "e": 0}, {"k": 1394, "e": 0}]},
      "mark": {"type": "line", "clip": true, "color": "#56b4e9", "strokeWidth": 1.5},
      "encoding": {
        "x": {"field": "k", "type": "quantitative",
          "axis": {"orient": "top", "values": [0, 198, 312, 540, 645, 842, 956, 1184, 1288.5, 1394], "labels": false,
            "title": null, "domain": false, "ticks": true, "tickSize": -10, "tickColor": "black", "tickWidth": 1.5, "grid": false, "zindex": 1}},
        "y": {"field": "e", "type": "quantitative",
          "axis": {"orient": "right", "values": [-5, -4, -3, -2, -1, 0, 1, 2], "labels": false,
            "title": null, "domain": false, "ticks": true, "tickSize": -10, "tickColor": "black", "tickWidth": 1.5, "grid": false, "zindex": 1}}
      }
    }
  ],
  "resolve": {"axis": {"x": "independent", "y": "independent"}}
}
